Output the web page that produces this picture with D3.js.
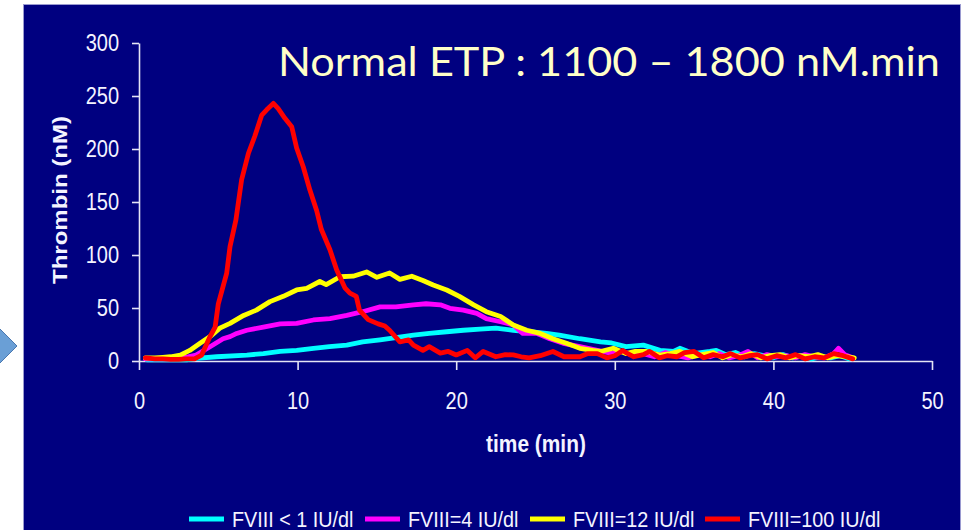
<!DOCTYPE html>
<html>
<head>
<meta charset="utf-8">
<script src="https://cdn.jsdelivr.net/npm/d3@7"></script>
<style>
  html, body { margin: 0; padding: 0; background: #ffffff; }
  svg { display: block; }
</style>
</head>
<body>
<svg id="chart" width="963" height="530"></svg>
<script>
// ---------- DATA ----------
const seriesNames = ["FVIII < 1 IU/dl", "FVIII=4 IU/dl", "FVIII=12 IU/dl", "FVIII=100 IU/dl"];
const seriesColors = ["#00ffff", "#ff00ff", "#ffff00", "#ff0000"];

const cyanT = [0.5,1.5,2.5,3.0,3.6,4.9,6.8,7.84,8.9,9.94,11,12,13.1,14.1,15.2,16.2,17.3,18.3,19.4,20.45,21.5,22.5,23.6,24.65,25.7,26.5,27.8,29.1,29.8,30.7,31.8,32.85,33.7,34.1,34.95,36,36.4,37,37.6,38.2,38.8,39.4,40,40.6,41.2,41.8,42.4,43,43.6,44.2,44.8];
const cyanV = [1,1,1,1,2.5,4,5.6,7,9,10,12,13.5,15,18,20,22,24.5,26,27.6,29,30,31,29,27.6,26,24.5,21,18,17,13.5,15,10,9,12,7,9,10,6,8,4,7,5,3,6,3,5,2,4,3,5,2];

const magT = [0.4,1,1.5,2,2.6,3.1,3.6,4.48,5.3,5.74,6.16,6.8,7.84,8.9,9.94,11,12.04,13.1,14.1,15.2,16.2,17.3,18.1,19,19.6,20.45,21.3,21.9,22.8,23.6,24.2,25.1,25.9,26.75,27.8,28.9,29.9,30.5,31.2,31.8,32.5,33.2,33.9,34.6,35.3,36,36.6,37.2,37.8,38.4,39,39.6,40.2,40.8,41.4,42,42.6,43.2,43.8,44.1,44.5,45];
const magV = [2,2,2,2,3,4,5.6,13.5,21,23,26,29,32,35,35.5,38.7,40,43,46.5,51,51,53,54,53,49.7,48,45,40,37,34,26,26,21,16.7,13.5,10,7,9,5,7,4,8,5,3,6,4,7,3,5,9,3,6,4,5,3,6,4,3,7,12,6,3];

const yelT = [0.4,1,1.5,2,2.6,3.2,3.85,4.48,5.1,5.74,6.6,7.4,8.26,9.1,9.94,10.57,11.4,11.8,12.67,13.5,14.35,15.0,15.8,16.45,17.2,17.9,18.55,19.4,20.2,21.1,21.9,22.8,23.6,24.45,25.3,26.1,26.95,27.8,28.6,29.1,29.9,30.7,31.3,32,32.85,33.5,34.1,34.9,35.5,36.2,36.8,37.4,38,38.6,39.2,39.8,40.4,41,41.6,42.2,42.8,43.4,44,44.6,45.1];
const yelV = [3,3,3.5,4,5.6,10,16.7,23,31,35.5,43,48,56,61,67,68.5,75,72,79.5,80,84,79,83,77,80,76,71.7,67,61,53,46.5,42,34,29,26,21,16.7,12,10,9,12,7,9,9,5.6,7,9,4,6,8,3,6,4,7,3,5,6,3,5,4,6,3,5,4,3];

const redT = [0.4,1,1.5,2,2.5,3,3.5,3.95,4.48,4.8,5.0,5.53,5.74,6.11,6.47,6.9,7.3,7.74,8.05,8.47,8.78,9.2,9.63,9.94,10.36,10.78,11.2,11.5,12.04,12.46,12.98,13.3,13.7,13.9,14.45,15.08,15.5,15.8,16.45,17.0,17.3,17.9,18.3,19,19.5,20,20.7,21.2,21.7,22.5,23.1,23.6,24.1,24.6,25.3,26.1,26.8,27.8,28.3,28.9,29.5,30.0,30.5,30.7,31.2,31.8,32.2,32.8,33.3,33.9,34.4,35,35.6,36.2,36.8,37.3,37.9,38.5,39,39.6,40.2,40.8,41.4,42,42.6,43.2,43.8,44.4,45];
const redV = [3,2,2,1.5,1.5,2,2,5.6,23,32,54,83,108,133,171,196,212,232,237,243,238,229,221,201,183,161,142,124,105,86,69,64,61,48,39,35,33,29,18,20,15,10,13.5,7.5,9,5.7,10,3,9,4,6,5.7,4,3,5,9,4,4,7,7,3,5,10,8,4,6,9,3,5,4,8,9,3,6,4,7,3,5,6,2,5,3,6,2,4,3,7,5,2];

const xTicks = [0,10,20,30,40,50];
const yTicks = [0,50,100,150,200,250,300];
const titleText = "Normal ETP : 1100 \u2013 1800 nM.min";
const xTitle = "time (min)";
const yTitle = "Thrombin (nM)";

// ---------- DRAW ----------
const svg = d3.select("#chart");
const SX = 0.87; // horizontal condensation of text
const LSX = 0.9;  // legend condensation
const axisColor = "#e4e4f4";
const textColor = "#f4f4ff";

// left arrow shape
svg.append("polygon")
  .attr("points", "-12,317 17,346 -12,375")
  .attr("fill", "#6a9fd6").attr("stroke", "#4a78b0").attr("stroke-width", 1);

// navy background panel
svg.append("rect")
  .attr("x", 23.5).attr("y", 4.5).attr("width", 937).attr("height", 540)
  .attr("fill", "#000080").attr("stroke", "#9a9ad0").attr("stroke-width", 1);

const x = d3.scaleLinear().domain([0, 50]).range([139, 932]);
const y = d3.scaleLinear().domain([0, 300]).range([361, 43]);

// y axis
const gy = svg.append("g").attr("transform", `translate(${x(0)},0)`)
  .call(d3.axisLeft(y).tickValues(yTicks).tickSize(7).tickSizeOuter(0).tickPadding(13));
// x axis
const gx = svg.append("g").attr("transform", `translate(0,${y(0)})`)
  .call(d3.axisBottom(x).tickValues(xTicks).tickSize(9).tickSizeOuter(0).tickPadding(23));

[gx, gy].forEach(g => {
  g.select(".domain").attr("stroke", axisColor).attr("stroke-width", 1.6);
  g.selectAll(".tick line").attr("stroke", axisColor).attr("stroke-width", 1.6);
  g.selectAll(".tick text")
    .attr("fill", textColor)
    .attr("font-family", "'Liberation Sans', Arial, sans-serif")
    .attr("font-size", 23);
});
gy.selectAll(".tick text").attr("x", -20 / SX).attr("transform", `scale(${SX},1)`);
gx.selectAll(".tick text").attr("transform", `scale(${SX},1)`);

// series lines
const line = d3.line().x(d => x(d[0])).y(d => y(d[1]));
const seriesT = [cyanT, magT, yelT, redT];
const seriesV = [cyanV, magV, yelV, redV];
seriesT.forEach((ts, i) => {
  const pts = ts.map((t, j) => [t, seriesV[i][j]]);
  svg.append("path")
    .attr("d", line(pts))
    .attr("fill", "none")
    .attr("stroke", seriesColors[i])
    .attr("stroke-width", 4.8)
    .attr("stroke-linejoin", "round")
    .attr("stroke-linecap", "round");
});

// title
svg.append("text")
  .attr("x", 278).attr("y", 76)
  .attr("font-family", "Lato, 'Open Sans', sans-serif")
  .attr("font-size", 40)
  .attr("fill", "#ffffc8")
  .attr("textLength", 662).attr("lengthAdjust", "spacingAndGlyphs")
  .text(titleText);

// x axis title
svg.append("text")
  .attr("x", 536 / SX).attr("y", 452)
  .attr("transform", `scale(${SX},1)`)
  .attr("text-anchor", "middle")
  .attr("font-family", "'Liberation Sans', Arial, sans-serif")
  .attr("font-weight", "bold").attr("font-size", 24)
  .attr("fill", textColor)
  .text(xTitle);

// y axis title
svg.append("text")
  .attr("transform", `translate(67,200) scale(${SX},1) rotate(-90)`)
  .attr("text-anchor", "middle")
  .attr("font-family", "'Liberation Sans', Arial, sans-serif")
  .attr("font-weight", "bold").attr("font-size", 24)
  .attr("fill", textColor)
  .text(yTitle);

// legend
const legendX = [189, 365, 530, 705];
const legendY = 519;
seriesNames.forEach((name, i) => {
  svg.append("line")
    .attr("x1", legendX[i]).attr("x2", legendX[i] + 35)
    .attr("y1", legendY).attr("y2", legendY)
    .attr("stroke", seriesColors[i]).attr("stroke-width", 5);
  svg.append("text")
    .attr("x", (legendX[i] + 43) / LSX).attr("y", legendY + 8)
    .attr("transform", `scale(${LSX},1)`)
    .attr("font-family", "'Liberation Sans', Arial, sans-serif")
    .attr("font-size", 22)
    .attr("fill", textColor)
    .text(name);
});
</script>
</body>
</html>
